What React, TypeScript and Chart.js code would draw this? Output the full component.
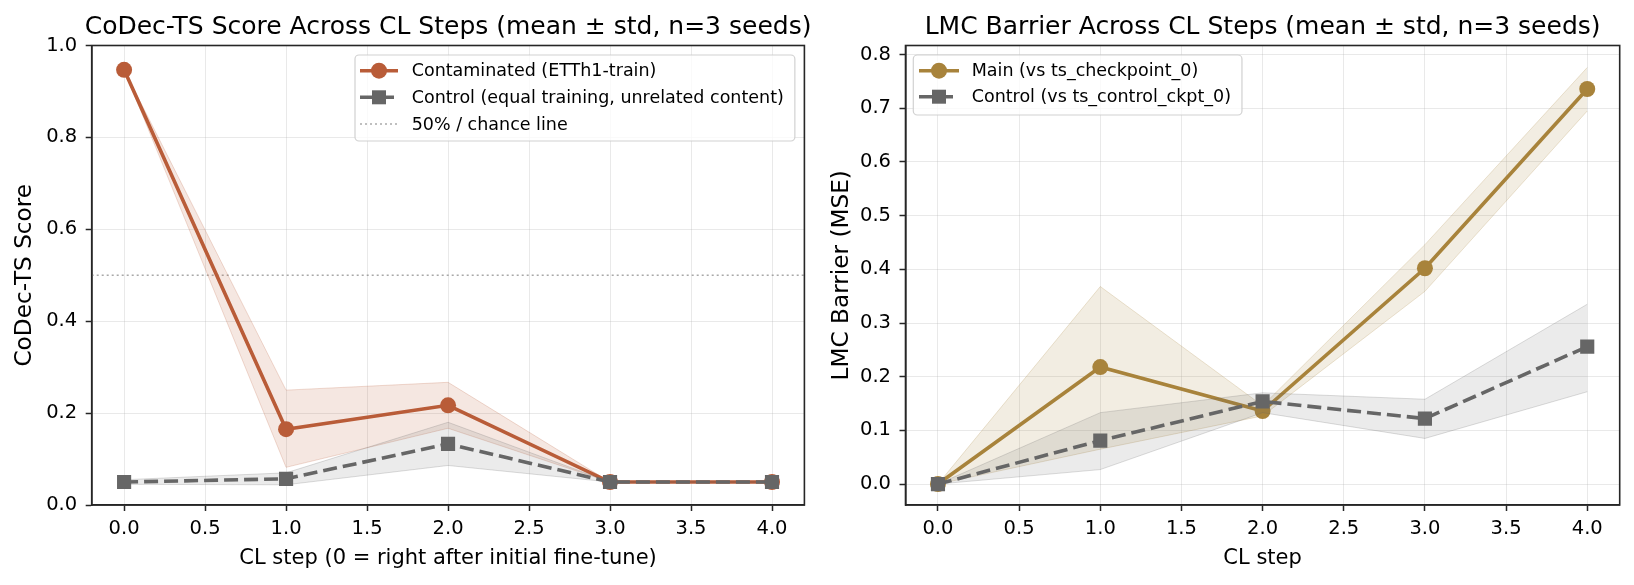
import React, { useEffect, useRef } from 'react';
import { Chart, registerables } from 'chart.js';

Chart.register(...registerables);

// ---------- data ----------
const steps = [0, 1, 2, 3, 4];

// Left: CoDec-TS score
const contamMean = [0.947, 0.165, 0.217, 0.05, 0.05];
const contamUpper = [0.947, 0.25, 0.267, 0.05, 0.05];
const contamLower = [0.947, 0.082, 0.167, 0.05, 0.05];
const ctrlMean = [0.05, 0.057, 0.133, 0.05, 0.05];
const ctrlUpper = [0.055, 0.07, 0.18, 0.05, 0.05];
const ctrlLower = [0.045, 0.044, 0.086, 0.05, 0.05];
const chanceLevel = 0.5;

// Right: LMC barrier
const mainMean = [0, 0.218, 0.136, 0.402, 0.736];
const mainUpper = [0, 0.368, 0.146, 0.446, 0.776];
const mainLower = [0, 0.065, 0.127, 0.359, 0.695];
const lmcCtrlMean = [0, 0.081, 0.154, 0.122, 0.256];
const lmcCtrlUpper = [0, 0.133, 0.17, 0.158, 0.335];
const lmcCtrlLower = [0, 0.027, 0.133, 0.085, 0.172];

const xTicks = [0, 0.5, 1, 1.5, 2, 2.5, 3, 3.5, 4];
const leftYTicks = [0, 0.2, 0.4, 0.6, 0.8, 1.0];
const rightYTicks = [0, 0.1, 0.2, 0.3, 0.4, 0.5, 0.6, 0.7, 0.8];

const leftTitle = 'CoDec-TS Score Across CL Steps (mean ± std, n=3 seeds)';
const rightTitle = 'LMC Barrier Across CL Steps (mean ± std, n=3 seeds)';
const leftXLabel = 'CL step (0 = right after initial fine-tune)';
const rightXLabel = 'CL step';
const leftYLabel = 'CoDec-TS Score';
const rightYLabel = 'LMC Barrier (MSE)';
const leftLegendLabels = ['Contaminated (ETTh1-train)', 'Control (equal training, unrelated content)', '50% / chance line'];
const rightLegendLabels = ['Main (vs ts_checkpoint_0)', 'Control (vs ts_control_ckpt_0)'];

// ---------- styles ----------
const FONT = '"DejaVu Sans", "Liberation Sans", sans-serif';
const C_CONTAM = 'rgb(185,92,56)';
const C_MAIN = 'rgb(168,131,59)';
const C_CTRL = 'rgb(102,102,102)';
const rgba = (rgb: string, a: number) => rgb.replace('rgb(', 'rgba(').replace(')', `,${a})`);
const SPINE = '#262626';
const W = 817;
const H = 585;

const pts = (ys: number[]) => steps.map((x, i) => ({ x, y: ys[i] }));

type LegendItem = { label: string; color: string; lineWidth: number; dash: number[]; marker: 'circle' | 'rect' | null };
type LegendCfg = { left: number; top: number; bottom: number; rowYs: number[]; sx0: number; sx1: number; textX: number; items: LegendItem[] };

const framePlugin = {
  id: 'frame',
  afterDraw(chart: any, _args: any, opts: any) {
    const { ctx, chartArea: a } = chart;
    ctx.save();
    // spines
    ctx.strokeStyle = SPINE;
    ctx.lineWidth = 1.6;
    ctx.setLineDash([]);
    ctx.strokeRect(a.left, a.top, a.right - a.left, a.bottom - a.top);
    // title
    ctx.fillStyle = '#000';
    ctx.font = `25px ${FONT}`;
    ctx.textAlign = 'center';
    ctx.textBaseline = 'alphabetic';
    ctx.fillText(opts.title, (a.left + a.right) / 2, 34);
    // legend
    const lg: LegendCfg = opts.legend;
    ctx.font = `17.5px ${FONT}`;
    let maxW = 0;
    lg.items.forEach((it) => { maxW = Math.max(maxW, ctx.measureText(it.label).width); });
    const boxR = lg.textX + maxW + 11;
    ctx.beginPath();
    if ((ctx as any).roundRect) (ctx as any).roundRect(lg.left, lg.top, boxR - lg.left, lg.bottom - lg.top, 4);
    else ctx.rect(lg.left, lg.top, boxR - lg.left, lg.bottom - lg.top);
    ctx.fillStyle = 'rgba(255,255,255,0.8)';
    ctx.fill();
    ctx.strokeStyle = 'rgba(204,204,204,0.9)';
    ctx.lineWidth = 1.2;
    ctx.stroke();
    lg.items.forEach((it, i) => {
      const y = lg.rowYs[i];
      ctx.beginPath();
      ctx.strokeStyle = it.color;
      ctx.lineWidth = it.lineWidth;
      ctx.setLineDash(it.dash);
      ctx.moveTo(lg.sx0, y);
      ctx.lineTo(lg.sx1, y);
      ctx.stroke();
      ctx.setLineDash([]);
      const cx = (lg.sx0 + lg.sx1) / 2;
      ctx.fillStyle = it.color;
      if (it.marker === 'circle') {
        ctx.beginPath();
        ctx.arc(cx, y, 8, 0, Math.PI * 2);
        ctx.fill();
      } else if (it.marker === 'rect') {
        ctx.fillRect(cx - 7, y - 7, 14, 14);
      }
      ctx.fillStyle = '#000';
      ctx.textAlign = 'left';
      ctx.textBaseline = 'middle';
      ctx.fillText(it.label, lg.textX, y + 1);
    });
    ctx.restore();
  },
};

type Series = { mean: number[]; upper: number[]; lower: number[]; color: string; marker: 'circle' | 'rect'; dash: number[]; front: boolean };

function buildConfig(p: {
  series: Series[];
  chance?: number;
  yMin: number; yMax: number; yTicks: number[]; yFmt: (v: number) => string;
  yAxisWidth: number; padRight: number;
  title: string; xLabel: string; yLabel: string; legend: LegendCfg;
}) {
  const datasets: any[] = [];
  p.series.forEach((s) => {
    const base = s.front ? 0 : 10;
    const upIdx = datasets.length;
    datasets.push({
      data: pts(s.upper), borderColor: rgba(s.color, 0.22), borderWidth: 1, pointRadius: 0,
      backgroundColor: rgba(s.color, s.color === C_CTRL ? 0.13 : 0.15), fill: { target: upIdx + 1 }, order: base + 3, tension: 0,
    });
    datasets.push({
      data: pts(s.lower), borderColor: rgba(s.color, 0.22), borderWidth: 1, pointRadius: 0, fill: false, order: base + 3, tension: 0,
    });
    datasets.push({
      data: pts(s.mean), borderColor: s.color, borderWidth: 3.6, borderDash: s.dash, pointStyle: s.marker,
      pointRadius: s.marker === 'rect' ? 10 : 8, pointBorderWidth: 0, pointBackgroundColor: s.color, fill: false, order: base + 1, tension: 0,
    });
  });
  if (p.chance !== undefined) {
    datasets.push({
      data: [{ x: -0.2, y: p.chance }, { x: 4.2, y: p.chance }], borderColor: 'rgba(140,140,140,0.75)', borderWidth: 1.3,
      borderDash: [2, 3], pointRadius: 0, fill: false, order: 50,
    });
  }
  const tickFont = { family: FONT, size: 19.5 };
  return {
    type: 'line',
    data: { datasets },
    plugins: [framePlugin],
    options: {
      animation: false,
      responsive: false,
      devicePixelRatio: 1,
      layout: { padding: { left: 0, top: 45.5, right: p.padRight, bottom: 0 } },
      plugins: {
        legend: { display: false },
        tooltip: { enabled: false },
        title: { display: false },
        frame: { title: p.title, legend: p.legend },
      },
      scales: {
        x: {
          type: 'linear', min: -0.2, max: 4.2,
          afterBuildTicks: (s: any) => { s.ticks = xTicks.map((v) => ({ value: v })); },
          afterFit: (s: any) => { s.height = 80; },
          ticks: { callback: (v: any) => Number(v).toFixed(1), font: tickFont, color: '#000', padding: 6, maxRotation: 0, autoSkip: false },
          grid: { color: 'rgba(176,176,176,0.28)', lineWidth: 1, tickColor: SPINE, tickLength: 6, tickWidth: 1.5 },
          border: { color: SPINE, width: 1.6 },
          title: { display: true, text: p.xLabel, font: { family: FONT, size: 21 }, color: '#000', padding: { top: 0, bottom: 14 } },
        },
        y: {
          type: 'linear', min: p.yMin, max: p.yMax,
          afterBuildTicks: (s: any) => { s.ticks = p.yTicks.map((v) => ({ value: v })); },
          afterFit: (s: any) => { s.width = p.yAxisWidth; },
          ticks: { callback: (v: any) => p.yFmt(Number(v)), font: tickFont, color: '#000', padding: 8.5, autoSkip: false },
          grid: { color: 'rgba(176,176,176,0.28)', lineWidth: 1, tickColor: SPINE, tickLength: 6, tickWidth: 1.5 },
          border: { color: SPINE, width: 1.6 },
          title: { display: true, text: p.yLabel, font: { family: FONT, size: 23.2 }, color: '#000', padding: { top: 10.8, bottom: 0 } },
        },
      },
    },
  };
}

function ChartCanvas({ config, left }: { config: any; left: number }) {
  const ref = useRef<HTMLCanvasElement | null>(null);
  useEffect(() => {
    if (!ref.current) return;
    const chart = new Chart(ref.current, config);
    return () => chart.destroy();
  }, [config]);
  return (
    <canvas ref={ref} width={W} height={H} style={{ position: 'absolute', left, top: 0, width: W, height: H }} />
  );
}

const leftConfig = buildConfig({
  series: [
    { mean: contamMean, upper: contamUpper, lower: contamLower, color: C_CONTAM, marker: 'circle', dash: [], front: false },
    { mean: ctrlMean, upper: ctrlUpper, lower: ctrlLower, color: C_CTRL, marker: 'rect', dash: [14, 6], front: true },
  ],
  chance: chanceLevel,
  yMin: 0, yMax: 1, yTicks: leftYTicks, yFmt: (v) => v.toFixed(1),
  yAxisWidth: 91.7, padRight: W - 804.4,
  title: leftTitle, xLabel: leftXLabel, yLabel: leftYLabel,
  legend: {
    left: 355, top: 55, bottom: 141, rowYs: [70.7, 97.3, 124], sx0: 360, sx1: 398, textX: 411.7,
    items: [
      { label: leftLegendLabels[0], color: C_CONTAM, lineWidth: 3.6, dash: [], marker: 'circle' },
      { label: leftLegendLabels[1], color: C_CTRL, lineWidth: 3.6, dash: [14, 6], marker: 'rect' },
      { label: leftLegendLabels[2], color: 'rgba(140,140,140,0.75)', lineWidth: 1.3, dash: [2, 3], marker: null },
    ],
  },
});

const rightConfig = buildConfig({
  series: [
    { mean: mainMean, upper: mainUpper, lower: mainLower, color: C_MAIN, marker: 'circle', dash: [], front: false },
    { mean: lmcCtrlMean, upper: lmcCtrlUpper, lower: lmcCtrlLower, color: C_CTRL, marker: 'rect', dash: [14, 6], front: true },
  ],
  yMin: -0.039, yMax: 0.817, yTicks: rightYTicks, yFmt: (v) => v.toFixed(1),
  yAxisWidth: 88.5, padRight: W - 802.7,
  title: rightTitle, xLabel: rightXLabel, yLabel: rightYLabel,
  legend: {
    left: 96.3, top: 55, bottom: 115, rowYs: [70.7, 96.7], sx0: 102, sx1: 142, textX: 154.7,
    items: [
      { label: rightLegendLabels[0], color: C_MAIN, lineWidth: 3.6, dash: [], marker: 'circle' },
      { label: rightLegendLabels[1], color: C_CTRL, lineWidth: 3.6, dash: [14, 6], marker: 'rect' },
    ],
  },
});

export default function App() {
  return (
    <div style={{ position: 'fixed', left: 0, top: 0, width: 1634, height: 585, background: '#fff', overflow: 'hidden' }}>
      <ChartCanvas config={leftConfig} left={0} />
      <ChartCanvas config={rightConfig} left={W} />
    </div>
  );
}
